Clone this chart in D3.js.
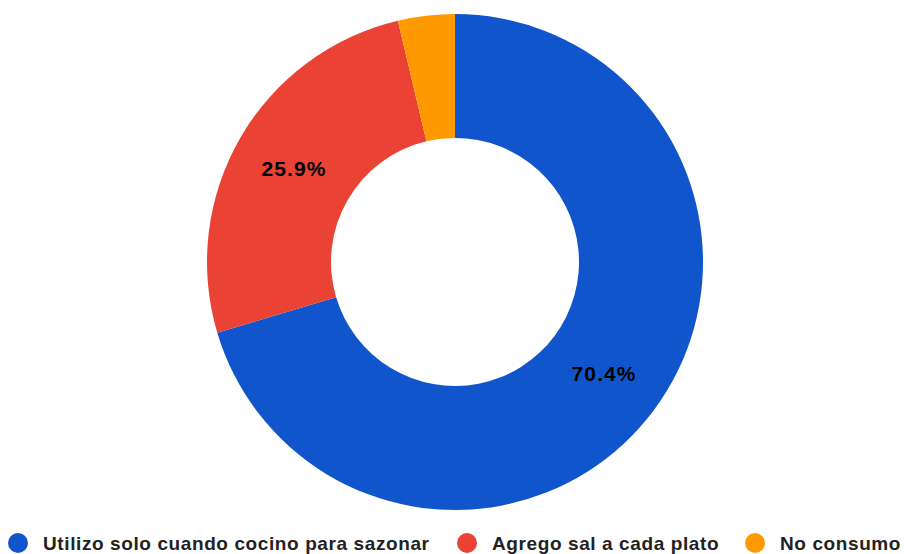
<!DOCTYPE html>
<html>
<head>
<meta charset="utf-8">
<script src="https://cdn.jsdelivr.net/npm/d3@7"></script>
<style>
  html, body { margin: 0; padding: 0; background: #fff; }
  svg { display: block; }
</style>
</head>
<body>
<svg id="chart" width="904" height="554"></svg>
<script>
// Salt usage survey shares (%)
const categories = ["Utilizo solo cuando cocino para sazonar", "Agrego sal a cada plato", "No consumo"];
const values = [70.4, 25.9, 3.7];
const colors = ["#1155cc", "#ea4335", "#ff9900"];

const svg = d3.select("#chart");
const cx = 455, cy = 262;
const outerR = 248, innerR = 124;

const pie = d3.pie().sort(null).value(d => d.value);
const data = categories.map((c, i) => ({ name: c, value: values[i], color: colors[i] }));
const arcs = pie(data);

const arc = d3.arc().innerRadius(innerR).outerRadius(outerR);
const labelArc = d3.arc().innerRadius((innerR + outerR) / 2).outerRadius((innerR + outerR) / 2);

const g = svg.append("g").attr("transform", `translate(${cx},${cy})`);

g.selectAll("path.slice")
  .data(arcs)
  .join("path")
  .attr("class", "slice")
  .attr("d", arc)
  .attr("fill", d => d.data.color);

// Percentage labels on slices large enough to hold them
g.selectAll("text.pct")
  .data(arcs.filter(d => d.data.value >= 10))
  .join("text")
  .attr("class", "pct")
  .attr("transform", d => `translate(${labelArc.centroid(d)})`)
  .attr("text-anchor", "middle")
  .attr("dy", "0.36em")
  .attr("font-family", "'Liberation Sans', Arial, sans-serif")
  .attr("font-weight", "bold")
  .attr("font-size", 21)
  .attr("letter-spacing", 1.1)
  .attr("fill", "#000")
  .text(d => d.data.value.toFixed(1) + "%");

// Legend along the bottom
const legendX = [18, 467, 755];
const legend = svg.append("g").attr("class", "legend");
const items = legend.selectAll("g.item")
  .data(data)
  .join("g")
  .attr("class", "item")
  .attr("transform", (d, i) => `translate(${legendX[i]},543)`);

items.append("circle")
  .attr("r", 10)
  .attr("fill", d => d.color);

items.append("text")
  .attr("x", 25)
  .attr("dy", "0.35em")
  .attr("font-family", "'Liberation Sans', Arial, sans-serif")
  .attr("font-weight", "bold")
  .attr("font-size", 19)
  .attr("letter-spacing", 0.6)
  .attr("fill", "#222")
  .text(d => d.name);
</script>
</body>
</html>
